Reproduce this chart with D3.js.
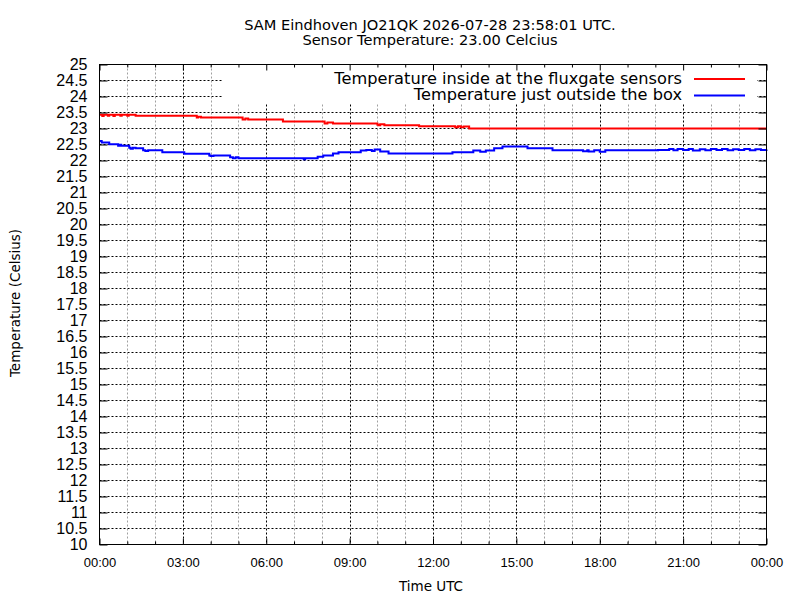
<!DOCTYPE html>
<html>
<head>
<meta charset="utf-8">
<script src="https://cdn.jsdelivr.net/npm/d3@7"></script>
<style>
  body { margin: 0; background: #fff; }
  svg { display: block; font-family: "DejaVu Sans", sans-serif; }
</style>
</head>
<body>
<div id="chart"></div>
<script>
// hours since 00:00 UTC and temperature in Celsius
const insideHours = [0, 0.1, 0.15, 0.3, 0.35, 0.5, 0.55, 0.75, 0.8, 1.0, 1.05, 1.3,
    3.5, 3.55, 3.65, 5.15, 5.25, 5.35, 6.6, 8.1, 8.2, 8.4, 9.95, 10.0, 10.05, 10.1, 10.25,
    11.5, 12.8, 12.9, 13.0, 13.1, 13.3, 24];
const insideTemp = [23.43, 23.39, 23.43, 23.40, 23.43, 23.39, 23.43, 23.40, 23.43, 23.40, 23.43, 23.40,
    23.34, 23.37, 23.34, 23.28, 23.31, 23.28, 23.22, 23.16, 23.19, 23.16, 23.16, 23.12, 23.10, 23.13, 23.10,
    23.07, 23.04, 23.07, 23.04, 23.06, 23.00, 23.00];

const outsideHours = [0, 0.08, 0.35, 0.67, 0.72, 0.78, 1.07, 1.12, 1.2, 1.3, 1.57, 1.65, 1.75,
    2.26, 3.05, 3.95, 4.0, 4.1, 4.7, 4.8, 4.9, 5.0, 7.35, 7.4, 7.85, 8.05, 8.4, 8.6,
    9.4, 9.6, 9.8, 9.9, 10.1, 10.4, 12.7, 13.45, 13.7, 13.9, 14.2, 14.5, 15.4, 16.3,
    17.4, 17.55, 17.6, 17.8, 18.0, 18.2, 20.1, 20.5, 20.65, 20.8, 21.0, 21.2, 21.35,
    21.6, 21.8, 22.0, 22.2, 22.4, 22.6, 22.8, 23.0, 23.2, 23.4, 23.6, 23.8, 24];
const outsideTemp = [22.61, 22.56, 22.51, 22.46, 22.49, 22.46, 22.40, 22.37, 22.40, 22.38, 22.32, 22.30, 22.32,
    22.26, 22.21, 22.16, 22.14, 22.16, 22.10, 22.07, 22.10, 22.07, 22.04, 22.07, 22.12, 22.16, 22.22, 22.26,
    22.31, 22.33, 22.30, 22.34, 22.28, 22.22, 22.26, 22.31, 22.27, 22.31, 22.38, 22.44, 22.38, 22.32,
    22.29, 22.32, 22.28, 22.32, 22.27, 22.32, 22.33, 22.36, 22.32, 22.36, 22.33, 22.36, 22.31,
    22.35, 22.32, 22.36, 22.33, 22.36, 22.32, 22.35, 22.33, 22.36, 22.32, 22.35, 22.33, 22.34];

const yTicks = d3.range(10, 25.01, 0.5);
const xMajorTicks = [0, 3, 6, 9, 12, 15, 18, 21, 24];
const xMinorTicks = d3.range(0, 25, 1).filter(h => h % 3 !== 0);
const xTickLabels = ['00:00', '03:00', '06:00', '09:00', '12:00', '15:00', '18:00', '21:00', '00:00'];

const seriesNames = ['Temperature inside at the fluxgate sensors', 'Temperature just outside the box'];
const seriesColors = ['#ff0000', '#0000ff'];

const titleLines = ['SAM Eindhoven JO21QK 2026-07-28 23:58:01 UTC.', 'Sensor Temperature: 23.00 Celcius'];

const width = 800, height = 600;
const plot = { left: 99.5, right: 766.5, top: 64.5, bottom: 544.5 };

const svg = d3.select('#chart')
    .append('svg')
    .attr('width', width)
    .attr('height', height);

const x = d3.scaleLinear().domain([0, 24]).range([plot.left, plot.right]);
const y = d3.scaleLinear().domain([10, 25]).range([plot.bottom, plot.top]);

// grid
const grid = svg.append('g').attr('stroke-dasharray', '2,2').attr('stroke-width', 1);
grid.selectAll('.ygrid')
    .data(yTicks.slice(1, -1))
    .enter()
    .append('line')
    .attr('x1', plot.left).attr('x2', plot.right)
    .attr('y1', d => y(d)).attr('y2', d => y(d))
    .attr('stroke', '#000');
grid.selectAll('.xminor')
    .data(xMinorTicks)
    .enter()
    .append('line')
    .attr('x1', d => Math.round(x(d)) + 0.5).attr('x2', d => Math.round(x(d)) + 0.5)
    .attr('y1', plot.top).attr('y2', plot.bottom)
    .attr('stroke', '#a0a0a0');
grid.selectAll('.xmajor')
    .data(xMajorTicks.slice(1, -1))
    .enter()
    .append('line')
    .attr('x1', d => Math.round(x(d)) + 0.5).attr('x2', d => Math.round(x(d)) + 0.5)
    .attr('y1', plot.top).attr('y2', plot.bottom)
    .attr('stroke', '#000');

// key area hides the grid
svg.append('rect')
    .attr('x', 222).attr('y', plot.top + 0.5)
    .attr('width', 535).attr('height', 39)
    .attr('fill', '#fff');

// data
const line = d3.line()
    .x(d => x(d[0]))
    .y(d => y(d[1]))
    .curve(d3.curveStepAfter);

const series = [
    d3.zip(insideHours, insideTemp),
    d3.zip(outsideHours, outsideTemp)
];

svg.selectAll('.series')
    .data(series)
    .enter()
    .append('path')
    .attr('class', 'series')
    .attr('d', d => line(d))
    .attr('fill', 'none')
    .attr('stroke', (d, i) => seriesColors[i])
    .attr('stroke-width', 2);

// axes with ticks on all four sides
const yLabel = d => (d % 1 === 0 ? String(d) : d.toFixed(1));

const yAxis = svg.append('g')
    .attr('transform', `translate(${plot.left},0)`)
    .call(d3.axisLeft(y).tickValues(yTicks).tickFormat(yLabel).tickSizeInner(-8).tickSizeOuter(0).tickPadding(12));
yAxis.select('.domain').remove();
yAxis.selectAll('text').style('font-size', '16px').attr('fill', '#000');

const yAxisRight = svg.append('g')
    .attr('transform', `translate(${plot.right},0)`)
    .call(d3.axisRight(y).tickValues(yTicks).tickFormat('').tickSizeInner(-8).tickSizeOuter(0));
yAxisRight.select('.domain').remove();

const xAxis = svg.append('g')
    .attr('transform', `translate(0,${plot.bottom})`)
    .call(d3.axisBottom(x).tickValues(xMajorTicks)
        .tickFormat((d, i) => xTickLabels[i]).tickSizeInner(-6).tickSizeOuter(0).tickPadding(13));
xAxis.select('.domain').remove();
xAxis.selectAll('text').style('font-size', '13px').attr('fill', '#000');

const xMinorBottom = svg.append('g')
    .attr('transform', `translate(0,${plot.bottom})`)
    .call(d3.axisBottom(x).tickValues(xMinorTicks).tickFormat('').tickSizeInner(-3).tickSizeOuter(0));
xMinorBottom.select('.domain').remove();

const xAxisTop = svg.append('g')
    .attr('transform', `translate(0,${plot.top})`)
    .call(d3.axisTop(x).tickValues(xMajorTicks).tickFormat('').tickSizeInner(-6).tickSizeOuter(0));
xAxisTop.select('.domain').remove();

const xMinorTop = svg.append('g')
    .attr('transform', `translate(0,${plot.top})`)
    .call(d3.axisTop(x).tickValues(xMinorTicks).tickFormat('').tickSizeInner(-3).tickSizeOuter(0));
xMinorTop.select('.domain').remove();

svg.selectAll('.tick line').attr('stroke', '#000');

// border
svg.append('rect')
    .attr('x', plot.left).attr('y', plot.top)
    .attr('width', plot.right - plot.left)
    .attr('height', plot.bottom - plot.top)
    .attr('fill', 'none')
    .attr('stroke', '#000')
    .attr('stroke-width', 1);

// key
const legend = svg.append('g').attr('class', 'legend');
seriesNames.forEach((name, i) => {
    const rowY = 79 + i * 16.5;
    legend.append('text')
        .attr('x', 682)
        .attr('y', rowY + 4.8)
        .attr('text-anchor', 'end')
        .style('font-size', '16.2px')
        .attr('fill', '#000')
        .text(name);
    legend.append('line')
        .attr('x1', 694).attr('x2', 745)
        .attr('y1', rowY).attr('y2', rowY)
        .attr('stroke', seriesColors[i])
        .attr('stroke-width', 2);
});

// titles
svg.selectAll('.title')
    .data(titleLines)
    .enter()
    .append('text')
    .attr('class', 'title')
    .attr('x', 430)
    .attr('y', (d, i) => 29.5 + i * 15)
    .attr('text-anchor', 'middle')
    .style('font-size', '14.6px')
    .text(d => d);

svg.append('text')
    .attr('x', 431)
    .attr('y', 591)
    .attr('text-anchor', 'middle')
    .style('font-size', '13.5px')
    .text('Time UTC');

svg.append('text')
    .attr('transform', 'rotate(-90)')
    .attr('x', -303)
    .attr('y', 20)
    .attr('text-anchor', 'middle')
    .style('font-size', '13.5px')
    .text('Temperature (Celsius)');
</script>
</body>
</html>
